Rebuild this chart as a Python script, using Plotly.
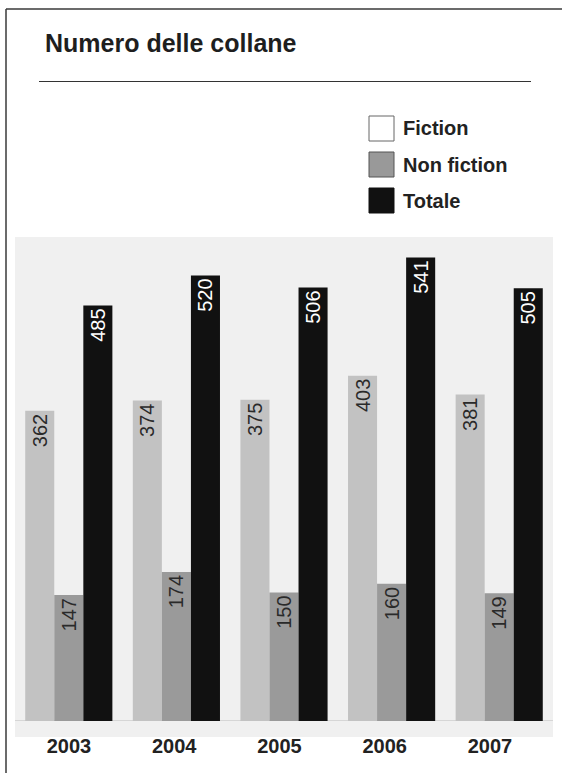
import plotly.graph_objects as go

years = ["2003", "2004", "2005", "2006", "2007"]
fiction = [362, 374, 375, 403, 381]
non_fiction = [147, 174, 150, 160, 149]
totale = [485, 520, 506, 541, 505]
series_names = ["Fiction", "Non fiction", "Totale"]
title_text = "Numero delle collane"

W, H = 562, 773
L, R, T, B = 15, 553, 237, 737  # plot area in pixels

def px_x(px):
    return (px - L) / (R - L)

def px_y(py):
    return (B - py) / (B - T)

FONT = "Liberation Sans, Arial, Helvetica, sans-serif"
bar_colors = ["#c2c2c2", "#9a9a9a", "#111111"]
text_colors = ["#2a2a2a", "#2a2a2a", "#ffffff"]

fig = go.Figure()
for name, vals, col, tcol in zip(series_names, [fiction, non_fiction, totale], bar_colors, text_colors):
    fig.add_trace(go.Bar(
        x=years, y=vals, name=name,
        marker=dict(color=col, line=dict(width=0)),
        text=[str(v) for v in vals],
        textposition="inside", insidetextanchor="end", textangle=-90,
        textfont=dict(family=FONT, size=20, color=tcol),
        constraintext="none", cliponaxis=False,
        showlegend=False, hoverinfo="skip",
    ))

# invisible helper trace carrying the year labels (printed slightly tighter than the bar groups)
fig.add_trace(go.Scatter(x=years, y=[0] * len(years), xaxis="x2", mode="markers",
                         marker=dict(opacity=0), showlegend=False, hoverinfo="skip"))

shapes = []
annotations = []
# outer frame (top and left)
shapes.append(dict(type="line", xref="paper", yref="paper",
                   x0=px_x(6), x1=px_x(W), y0=px_y(9), y1=px_y(9),
                   line=dict(color="#3a3a3a", width=1.5)))
shapes.append(dict(type="line", xref="paper", yref="paper",
                   x0=px_x(6), x1=px_x(6), y0=px_y(9), y1=px_y(H),
                   line=dict(color="#3a3a3a", width=1.5)))
# title rule
shapes.append(dict(type="line", xref="paper", yref="paper",
                   x0=px_x(39), x1=px_x(531), y0=px_y(81.5), y1=px_y(81.5),
                   line=dict(color="#333333", width=1.2)))

# legend
legend_fill = ["#ffffff", "#999999", "#111111"]
legend_line = ["#666666", "#555555", "#111111"]
legend_tops = [116, 152, 188]
for name, fcol, lcol, top in zip(series_names, legend_fill, legend_line, legend_tops):
    shapes.append(dict(type="rect", xref="paper", yref="paper",
                       x0=px_x(369), x1=px_x(394), y0=px_y(top + 25), y1=px_y(top),
                       fillcolor=fcol, line=dict(color=lcol, width=1)))
    annotations.append(dict(text="<b>%s</b>" % name, xref="paper", yref="paper",
                            x=px_x(401), y=px_y(top + 12.5), xanchor="left", yanchor="middle",
                            showarrow=False, font=dict(family=FONT, size=20, color="#222222")))

# title
annotations.append(dict(text="<b>%s</b>" % title_text, xref="paper", yref="paper",
                        x=px_x(43), y=px_y(43), xanchor="left", yanchor="middle",
                        showarrow=False, font=dict(family=FONT, size=25, color="#1e1e1e")))

fig.update_layout(
    width=W, height=H,
    margin=dict(l=L, r=W - R, t=T, b=H - B, pad=0),
    paper_bgcolor="#ffffff", plot_bgcolor="#f0f0f0",
    barmode="group", bargap=0.19, bargroupgap=0,
    shapes=shapes, annotations=annotations,
    uniformtext=dict(minsize=20, mode="show"),
    showlegend=False,
    font=dict(family=FONT),
    xaxis=dict(range=[-0.5, 4.5], showgrid=False, zeroline=False, showline=False,
               ticks="", showticklabels=False, fixedrange=True),
    xaxis2=dict(overlaying="x", anchor="y", side="bottom", type="category",
                categoryorder="array", categoryarray=years,
                range=[-0.513, 4.599], showgrid=False, zeroline=False, showline=False,
                ticks="", tickfont=dict(family=FONT, size=20, color="#222222"),
                tickprefix="<b>", ticksuffix="</b>", ticklabelstandoff=-5, fixedrange=True),
    yaxis=dict(range=[-18.7, 564.8], showgrid=False, zeroline=True, zerolinecolor="#d6d6d6",
               zerolinewidth=1, showline=False, showticklabels=False, ticks="", fixedrange=True),
)

fig.write_html("out.html", config={"displayModeBar": False},
               post_script="document.body.style.margin='0';document.body.style.overflow='hidden';")
